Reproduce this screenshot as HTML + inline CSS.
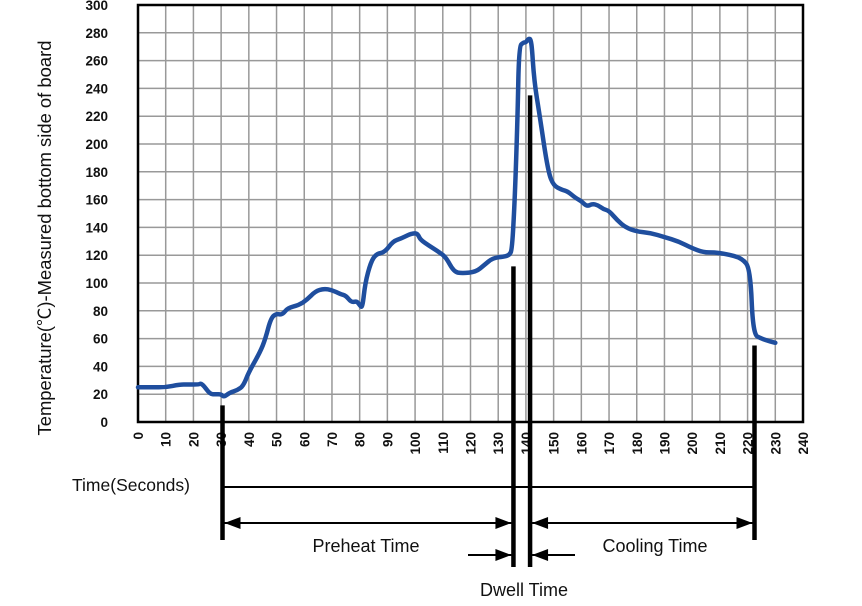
<!DOCTYPE html>
<html><head><meta charset="utf-8">
<style>
body{margin:0;background:#fff;}
svg{display:block;font-family:"Liberation Sans",Arial,"Noto Sans CJK SC",sans-serif;}
</style></head>
<body>
<svg id="chart" width="862" height="606" viewBox="0 0 862 606">
<g id="grid"></g>
<g id="axes"></g>
<g id="series"></g>
<g id="annot"></g>
<text x="0" y="0" transform="translate(51,238) rotate(-90)" text-anchor="middle" font-size="18" textLength="395" lengthAdjust="spacingAndGlyphs" fill="#111">Temperature(℃)-Measured bottom side of board</text>
<text x="72" y="491" font-size="17.5" fill="#111">Time(Seconds)</text>
<text x="366" y="552" text-anchor="middle" font-size="18" fill="#111">Preheat Time</text>
<text x="655" y="552" text-anchor="middle" font-size="18" fill="#111">Cooling Time</text>
<text x="524" y="596" text-anchor="middle" font-size="18" fill="#111">Dwell Time</text>
</svg>
<script>
const xTicks=[0,10,20,30,40,50,60,70,80,90,100,110,120,130,140,150,160,170,180,190,200,210,220,230,240];
const yTicks=[0,20,40,60,80,100,120,140,160,180,200,220,240,260,280,300];
const times=[0,5,10,15,18,22,23,26,28,30,31,33,36,38,40,44,46,48,50,52,54,58,61,64,67,70,73,75,77,79,80,81,82,84,86,89,92,95,98,100,101,102,105,108,111,114,117,122,125,128,132,134,135,136,137,137.5,139,140,141,142,143,145,148,150,153,155,158,160,162,164,166,168,170,173,176,180,185,190,195,200,204,208,212,218,221,222,225,228,230];
const temps=[25,25,25,27,27,27,28,20,20,20,18,21,23,26,36,50,60,75,78,77,82,84,88,94,96,95,92,91,86,87,84,82,100,115,121,122,130,132,135,136,135,131,127,123,119,108,107,108,113,118,119,120,124,160,220,270,273,273,276,275,245,220,180,170,167,166,161,159,155,157,156,153,152,145,140,137,136,133,130,125,122,122,121,118,110,63,60,58,57];
const markers=[30.5,135.5,141.5,222.5];
const markerTops=[12,112,235,55];

const X0=138,X1=803,Y0=422,Y1=5;
const sx=t=>X0+(t-0)/(240)*(X1-X0);
const sy=v=>Y0-(v/300)*(Y0-Y1);
const NS="http://www.w3.org/2000/svg";
function mk(tag,attrs,parent){const e=document.createElementNS(NS,tag);for(const k in attrs)e.setAttribute(k,attrs[k]);parent.appendChild(e);return e;}
const grid=document.getElementById('grid'),axes=document.getElementById('axes'),series=document.getElementById('series'),annot=document.getElementById('annot');

xTicks.forEach(t=>{
  const l=mk('line',{x1:sx(t),x2:sx(t),y1:Y1,y2:Y0,stroke:'#999','stroke-width':1.5},grid);
  
  
  const tx=mk('text',{transform:`translate(${sx(t)+5},${Y0+10}) rotate(-90)`,'text-anchor':'end','font-size':13.5,'font-weight':'bold',fill:'#111'},axes);
  tx.textContent=t;
  
  
});
yTicks.forEach(v=>{
  const l=mk('line',{x1:X0,x2:X1,y1:sy(v),y2:sy(v),stroke:'#999','stroke-width':1.5},grid);
  
  
  const tx=mk('text',{x:108,y:sy(v)+5,'text-anchor':'end','font-size':13.5,'font-weight':'bold',fill:'#111'},axes);
  tx.textContent=v;
  
  
});
const fr=mk('rect',{x:X0,y:Y1,width:X1-X0,height:Y0-Y1,fill:'none',stroke:'#000','stroke-width':2.5},axes);



const mBottoms=[540,567,567,540];
markers.forEach((t,i)=>{
  const l=mk('line',{x1:sx(t),x2:sx(t),y1:sy(markerTops[i]),y2:mBottoms[i],stroke:'#000','stroke-width':4.5},annot);
  
  
});

// smoothed path (midpoint quadratic smoothing)
const pts=times.map((t,i)=>[sx(t),sy(temps[i])]);
let d='M'+pts[0][0].toFixed(1)+','+pts[0][1].toFixed(1);
for(let i=1;i<pts.length-1;i++){
  const mx=(pts[i][0]+pts[i+1][0])/2,my=(pts[i][1]+pts[i+1][1])/2;
  d+='Q'+pts[i][0].toFixed(1)+','+pts[i][1].toFixed(1)+' '+mx.toFixed(1)+','+my.toFixed(1);
}
const last=pts[pts.length-1];
d+='L'+last[0].toFixed(1)+','+last[1].toFixed(1);
const p=mk('path',{d:d,fill:'none',stroke:'#1f4e9e','stroke-width':4.5,'stroke-linejoin':'round','stroke-linecap':'round'},series);



const m0=sx(markers[0]),m1=sx(markers[1]),m2=sx(markers[2]),m3=sx(markers[3]);
const hl=mk('line',{x1:m0,x2:m3,y1:487,y2:487,stroke:'#000','stroke-width':2},annot);


function arrowHead(x,y,dir){
  const h=mk('polygon',{points:`${x},${y} ${x-dir*16},${y-6} ${x-dir*16},${y+6}`,fill:'#000'},annot);
  
  
}
function seg(x1,x2,y,name){
  const l=mk('line',{x1:x1,x2:x2,y1:y,y2:y,stroke:'#000','stroke-width':2},annot);
  
  
}
seg(m0+2,m1-2,523,'preheat-arrow');arrowHead(m0+2,523,-1);arrowHead(m1-2,523,1);
seg(m2+2,m3-2,523,'cooling-arrow');arrowHead(m2+2,523,-1);arrowHead(m3-2,523,1);
seg(468,m1-2,555,'dwell-arrow-left');arrowHead(m1-2,555,1);
seg(m2+2,575,555,'dwell-arrow-right');arrowHead(m2+2,555,-1);
</script>
</body></html>
